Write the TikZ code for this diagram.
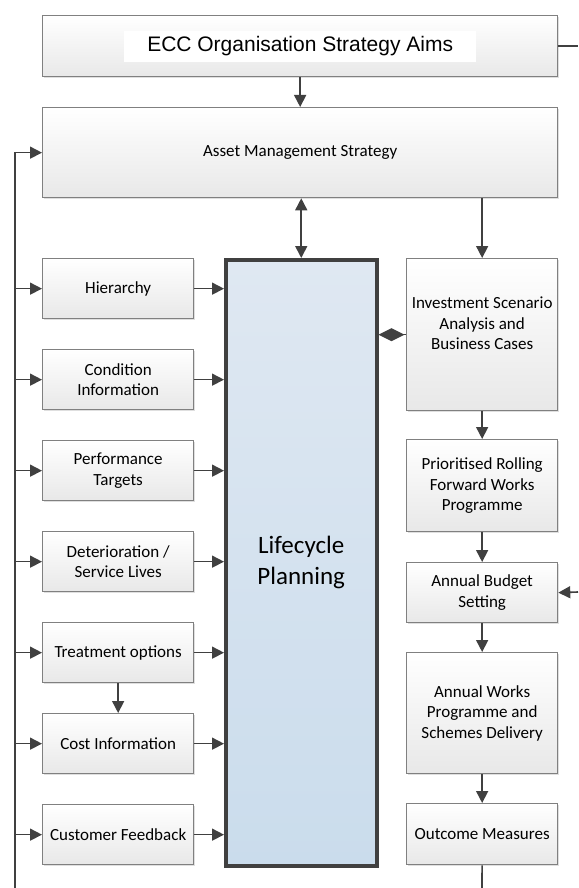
\documentclass[tikz,border=0pt]{standalone}
\usepackage{fontspec}
\setmainfont{Carlito}
\newfontfamily\headfont{Liberation Sans}
\usetikzlibrary{positioning, arrows.meta, shadows}
\definecolor{linegrey}{RGB}{64,64,64}
\definecolor{boxedge}{RGB}{128,128,128}
\definecolor{boxlow}{RGB}{232,232,232}
\definecolor{lcblue}{RGB}{223,232,242}
\definecolor{lcbluelow}{RGB}{202,220,236}

\begin{document}
\begin{tikzpicture}[x=1pt, y=-1pt,
  box/.style={draw=boxedge, line width=1.3pt, top color=white, bottom color=boxlow,
    align=center, font=\fontsize{17}{20.5}\selectfont, inner sep=2pt, anchor=north west,
    drop shadow={shadow xshift=1.5pt, shadow yshift=-1.5pt, opacity=0.25}},
  lbox/.style={box, minimum width=151pt, minimum height=60pt},
  rbox/.style={box, minimum width=151pt},
  link/.style={draw=linegrey, line width=1.6pt, -{Triangle[length=12pt, width=12pt]}},
  wire/.style={draw=linegrey, line width=1.6pt}]
  \useasboundingbox (0,0) rectangle (578,888);

  % top of the chain
  \node[box, minimum width=515pt, minimum height=61pt] (ecc) at (42,15){};
  \node[fill=white, minimum width=352pt, minimum height=31pt, inner sep=0pt,
    font=\headfont\fontsize{21}{24}\selectfont] (ecctext) at (ecc.center){ECC Organisation Strategy Aims};
  \node[box, minimum width=515pt, minimum height=90pt] (ams) at (42,107){Asset Management Strategy};

  % lifecycle planning core
  \node[draw=linegrey, line width=3.5pt, top color=lcblue, bottom color=lcbluelow,
    minimum width=151pt, minimum height=606pt, anchor=north west, align=center,
    font=\fontsize{25}{31}\selectfont,
    drop shadow={shadow xshift=1.5pt, shadow yshift=-1.5pt, opacity=0.25}] (life) at (224,258){Lifecycle\\Planning};

  % inputs on the left
  \node[lbox] (hier) at (42,258){Hierarchy};
  \node[lbox] (cond) at (42,349){Condition\\Information};
  \node[lbox] (perf) at (42,440){Performance\\Targets};
  \node[lbox] (deter) at (42,531){Deterioration /\\Service Lives};
  \node[lbox] (treat) at (42,622){Treatment options};
  \node[lbox] (cost) at (42,713){Cost Information};
  \node[lbox] (cust) at (42,804){Customer Feedback};

  % delivery chain on the right
  \node[rbox, minimum height=152pt, label={[align=center, font=\fontsize{17}{20.5}\selectfont, yshift=11pt]center:Investment Scenario\\Analysis and\\Business Cases}] (invest) at (406,258){};
  \node[rbox, minimum height=92pt] (prwp) at (406,439){Prioritised Rolling\\Forward Works\\Programme};
  \node[rbox, minimum height=60pt] (budget) at (406,562){Annual Budget\\Setting};
  \node[rbox, minimum height=121pt] (works) at (406,652){Annual Works\\Programme and\\Schemes Delivery};
  \node[rbox, minimum height=61pt] (outcome) at (406,803){Outcome Measures};

  % loose ends at the page edge
  \coordinate (bus) at (15,888);
  \coordinate (eccout) at (578,46);
  \coordinate (budgetin) at (578,592);
  \coordinate (outend) at (482,888);

  \draw[link] (ecc) -- (ams);
  \draw[wire] (ecc.east |- eccout) -- (eccout);
  \draw[link, {Triangle[length=12pt, width=12pt]}-{Triangle[length=12pt, width=12pt]}] (ams.south -| life.north) -- (life.north);
  \draw[link] (ams.south -| invest.north) -- (invest.north);
  \draw[wire, {Diamond[length=26pt, width=13pt]}-] (life.east |- invest.west) -- (invest.west);

  \draw[link] (bus) |- (ams.west);
  \foreach \n in {hier, cond, perf, deter, treat, cost, cust}{
    \draw[link] (bus |- \n.west) -- (\n.west);
    \draw[link] (\n.east) -- (life.west |- \n.east);
  }
  \draw[link] (treat) -- (cost);

  \draw[link] (invest) -- (prwp);
  \draw[link] (prwp) -- (budget);
  \draw[link] (budgetin) -- (budget.east);
  \draw[link] (budget) -- (works);
  \draw[link] (works) -- (outcome);
  \draw[wire] (outcome) -- (outend);
\end{tikzpicture}
\end{document}
